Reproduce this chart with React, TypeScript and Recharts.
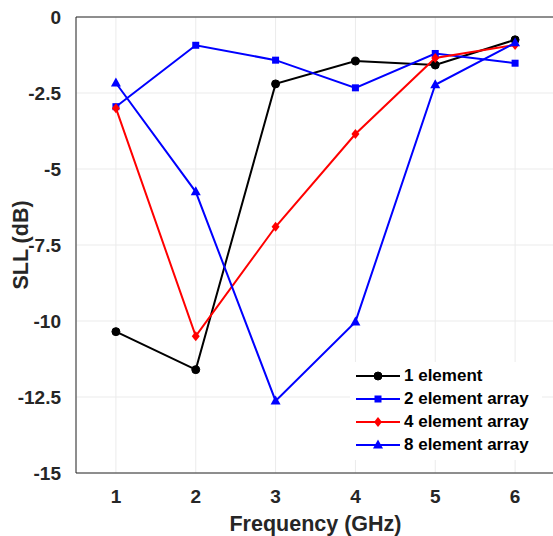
import { LineChart, Line, XAxis, YAxis, CartesianGrid, ReferenceLine } from 'recharts'

const freqs = [1, 2, 3, 4, 5, 6]
const oneElement = [-10.35, -11.6, -2.2, -1.45, -1.58, -0.75]
const twoElement = [-2.95, -0.93, -1.42, -2.33, -1.2, -1.52]
const fourElement = [-3.0, -10.5, -6.9, -3.85, -1.35, -0.92]
const eightElement = [-2.17, -5.75, -12.63, -10.03, -2.23, -0.85]
const yTicks = [0, -2.5, -5, -7.5, -10, -12.5, -15]

const data = freqs.map((f, i) => ({
  f,
  e1: oneElement[i],
  e2: twoElement[i],
  e4: fourElement[i],
  e8: eightElement[i],
}))

const FONT = 'Liberation Sans, Arial, sans-serif'
const TXT = '#262626'

type Shape = 'circle' | 'square' | 'diamond' | 'triangle'

function marker(shape: Shape, color: string, cx: number, cy: number, key?: string) {
  if (shape === 'circle') return <circle key={key} cx={cx} cy={cy} r={4} fill={color} stroke={color} />
  if (shape === 'square') return <rect key={key} x={cx - 3.5} y={cy - 3.5} width={7} height={7} fill={color} />
  if (shape === 'diamond')
    return <polygon key={key} points={`${cx},${cy - 5} ${cx + 4},${cy} ${cx},${cy + 5} ${cx - 4},${cy}`} fill={color} />
  return <polygon key={key} points={`${cx},${cy - 5.5} ${cx + 5},${cy + 3.5} ${cx - 5},${cy + 3.5}`} fill={color} />
}

const series: { key: string; name: string; color: string; shape: Shape }[] = [
  { key: 'e1', name: '1 element', color: '#000000', shape: 'circle' },
  { key: 'e2', name: '2 element array', color: '#0000ff', shape: 'square' },
  { key: 'e4', name: '4 element array', color: '#ff0000', shape: 'diamond' },
  { key: 'e8', name: '8 element array', color: '#0000ff', shape: 'triangle' },
]

function LegendBox() {
  return (
    <div
      style={{
        position: 'absolute',
        left: 350,
        top: 362,
        width: 192,
        background: '#fff',
        padding: '2px 0 4px',
        fontFamily: FONT,
        fontWeight: 'bold',
        fontSize: 17,
        color: '#000',
      }}
    >
      {series.map((s) => (
        <div key={s.key} style={{ display: 'flex', alignItems: 'center', height: 23 }}>
          <svg width={50} height={14} style={{ marginLeft: 4 }}>
            <line x1={2} y1={7} x2={46} y2={7} stroke={s.color} strokeWidth={2} />
            {marker(s.shape, s.color, 24, 7)}
          </svg>
          <span>{s.name}</span>
        </div>
      ))}
    </div>
  )
}

export default function App() {
  return (
    <div style={{ position: 'absolute', left: 0, top: 0, width: 553, height: 536, overflow: 'hidden', background: '#fff' }}>
      <LineChart width={555} height={536} data={data} margin={{ top: 17, right: 0, bottom: 0, left: 0 }}>
        <CartesianGrid stroke="#ebebeb" strokeWidth={1} />
        <XAxis
          dataKey="f"
          type="number"
          domain={[0.5, 6.5]}
          ticks={freqs}
          height={63}
          axisLine={{ stroke: TXT, strokeWidth: 1 }}
          tickLine={false}
          tick={{ fill: TXT, fontSize: 19, fontWeight: 'bold', fontFamily: FONT }}
          tickMargin={11}
          label={{ value: 'Frequency (GHz)', position: 'insideBottom', offset: 5, fill: TXT, fontSize: 21.5, fontWeight: 'bold', fontFamily: FONT }}
        />
        <YAxis
          type="number"
          domain={[-15, 0]}
          ticks={yTicks}
          width={76}
          axisLine={{ stroke: TXT, strokeWidth: 1 }}
          tickLine={false}
          tickFormatter={(v: number) => String(v)}
          tick={{ fill: TXT, fontSize: 19, fontWeight: 'bold', fontFamily: FONT }}
          tickMargin={9}
          label={{ value: 'SLL (dB)', angle: -90, position: 'insideLeft', offset: 20, fill: TXT, fontSize: 21.5, fontWeight: 'bold', fontFamily: FONT, style: { textAnchor: 'middle' } }}
        />
        <ReferenceLine y={0} stroke={TXT} strokeWidth={1} />
        {series.map((s) => (
          <Line
            key={s.key}
            dataKey={s.key}
            name={s.name}
            stroke={s.color}
            strokeWidth={2}
            isAnimationActive={false}
            dot={(p: any) => marker(s.shape, s.color, p.cx, p.cy, `${s.key}-${p.index}`)}
            activeDot={false}
          />
        ))}
      </LineChart>
      <LegendBox />
    </div>
  )
}
